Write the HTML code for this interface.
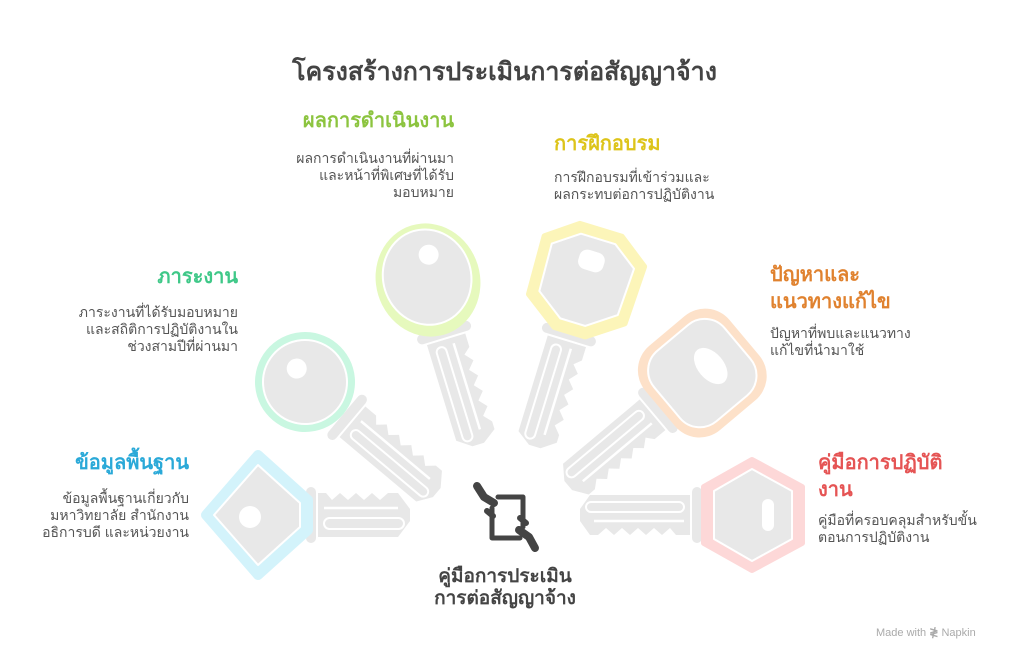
<!DOCTYPE html>
<html><head><meta charset="utf-8"><style>
html,body{margin:0;padding:0;background:#fff;}
body{width:1009px;height:660px;position:relative;overflow:hidden;font-family:"Liberation Sans","Noto Sans CJK SC",sans-serif;}
.t{position:absolute;white-space:nowrap;}
.h{font-weight:bold;font-size:20px;line-height:27px;}
.b{font-size:14px;line-height:17px;color:#555;}
.r{text-align:right;}
</style></head><body>
<svg width="1009" height="660" style="position:absolute;left:0;top:0">
<defs>
<g id="shaft">
  <rect x="48" y="-28" width="10" height="56" rx="5" fill="#e8e8e8"/>
  <path d="M60,-22 L68,-22 L74,-15 L82,-22 L90,-15 L98,-22 L106,-15 L114,-22 L122,-15 L130,-22 L140,-22 L152,-6 L152,6 L140,22 L60,22 Z" fill="#e8e8e8"/>
  <line x1="66" y1="-7" x2="140" y2="-7" stroke="#fff" stroke-width="2.5"/>
  <rect x="66" y="3" width="80" height="11" rx="5.5" fill="none" stroke="#fff" stroke-width="2"/>
</g>
<g id="lshaft">
  <rect x="50" y="-28" width="10" height="56" rx="5" fill="#e8e8e8"/>
  <path d="M62,-20 L76,-20 L82,-13 L90,-20 L98,-13 L106,-20 L114,-13 L122,-20 L130,-13 L138,-20 L146,-13 L154,-20 L162,-20 L172,-6 L172,6 L162,20 L62,20 Z" fill="#e8e8e8"/>
  <line x1="68" y1="-6" x2="158" y2="-6" stroke="#fff" stroke-width="2.5"/>
  <rect x="68" y="3" width="98" height="10" rx="5" fill="none" stroke="#fff" stroke-width="2"/>
</g>
</defs>
<!-- blue key -->
<g transform="translate(258,515)">
  <use href="#shaft"/>
  <path d="M0,-60 L50,-15 L50,15 L0,60 L-52,0 Z" fill="#d3f3fb" stroke="#d3f3fb" stroke-width="10" stroke-linejoin="round"/>
  <path d="M0,-50 L42,-12 L42,12 L0,50 L-44,0 Z" fill="#e8e8e8" stroke="#fff" stroke-width="2" stroke-linejoin="round"/>
  <circle cx="-8" cy="2" r="11" fill="#fff"/>
</g>
<!-- green key -->
<g transform="translate(305,382) rotate(40)">
  <use href="#lshaft"/>
  <circle cx="0" cy="0" r="50" fill="#c9f7e1"/>
  <circle cx="0" cy="0" r="42" fill="#e8e8e8" stroke="#fff" stroke-width="2"/>
  <circle cx="-15" cy="-5" r="10" fill="#fff"/>
</g>
<!-- light green key -->
<g transform="translate(428,280) rotate(73)">
  <use href="#lshaft"/>
  <ellipse cx="0" cy="0" rx="57" ry="52" fill="#e6f9bd"/>
  <ellipse cx="-3" cy="0" rx="48" ry="44" fill="#e8e8e8" stroke="#fff" stroke-width="2"/>
  <circle cx="-24" cy="-8" r="10" fill="#fff"/>
</g>
<!-- yellow key -->
<g transform="translate(585,282) rotate(107)">
  <use href="#lshaft"/>
  <path d="M-54,-22 L-32,-52 L28,-50 L52,-16 L52,16 L28,50 L-32,52 L-54,22 Z" fill="#fcf5b9" stroke="#fcf5b9" stroke-width="6" stroke-linejoin="round"/>
  <path d="M-45,-18 L-27,-43 L22,-41 L42,-13 L42,13 L22,41 L-27,43 L-45,18 Z" fill="#e8e8e8" stroke="#fff" stroke-width="2" stroke-linejoin="round"/>
  <rect x="-32" y="-13" width="20" height="26" rx="8" fill="#fff"/>
</g>
<!-- orange key -->
<g transform="translate(700,375) rotate(140)">
  <use href="#lshaft"/>
  <rect x="-58" y="-55" width="110" height="110" rx="32" fill="#fde1c9"/>
  <rect x="-49" y="-46" width="92" height="92" rx="26" fill="#e8e8e8" stroke="#fff" stroke-width="2"/>
  <ellipse cx="-14" cy="0" rx="13" ry="21" fill="#fff"/>
</g>
<!-- red key -->
<g transform="translate(752,515) rotate(180)">
  <use href="#lshaft"/>
  <path d="M-50,-28 L0,-55 L48,-28 L48,28 L0,55 L-50,28 Z" fill="#fdd8d8" stroke="#fdd8d8" stroke-width="6" stroke-linejoin="round"/>
  <path d="M-40,-24 L0,-46 L38,-24 L38,24 L0,46 L-40,24 Z" fill="#e8e8e8" stroke="#fff" stroke-width="2" stroke-linejoin="round"/>
  <rect x="-22" y="-16" width="12" height="32" rx="6" fill="#fff"/>
</g>
<!-- center icon -->
<g fill="none" stroke="#444" stroke-linejoin="round" stroke-linecap="round">
  <path d="M492,508 L492,538 L520,538" stroke-width="5"/>
  <path d="M498,497 L523,497 L523,527" stroke-width="5"/>
  <path d="M477,486 L484,497 L494,503" stroke-width="8"/>
  <path d="M487,511 L493,516" stroke-width="6"/>
  <path d="M535,548 L529,537 L519,530" stroke-width="8"/>
  <path d="M526,523 L520,518" stroke-width="6"/>
</g>
</svg>

<div class="t" style="left:0;width:1009px;top:52px;text-align:center;font-size:25px;font-weight:bold;color:#444;">โครงสร้างการประเมินการต่อสัญญาจ้าง</div>

<div class="t h r" style="right:555px;top:108px;color:#8cc43f;">ผลการดำเนินงาน</div>
<div class="t b r" style="right:555px;top:150px;">ผลการดำเนินงานที่ผ่านมา<br>และหน้าที่พิเศษที่ได้รับ<br>มอบหมาย</div>

<div class="t h" style="left:554px;top:131px;color:#ddc41a;">การฝึกอบรม</div>
<div class="t b" style="left:554px;top:169px;">การฝึกอบรมที่เข้าร่วมและ<br>ผลกระทบต่อการปฏิบัติงาน</div>

<div class="t h r" style="right:771px;top:264px;color:#3fc888;">ภาระงาน</div>
<div class="t b r" style="right:771px;top:304px;">ภาระงานที่ได้รับมอบหมาย<br>และสถิติการปฏิบัติงานใน<br>ช่วงสามปีที่ผ่านมา</div>

<div class="t h" style="left:770px;top:262px;color:#e0822f;">ปัญหาและ<br>แนวทางแก้ไข</div>
<div class="t b" style="left:770px;top:325px;">ปัญหาที่พบและแนวทาง<br>แก้ไขที่นำมาใช้</div>

<div class="t h r" style="right:820px;top:450px;color:#2aa9d8;">ข้อมูลพื้นฐาน</div>
<div class="t b r" style="right:820px;top:490px;">ข้อมูลพื้นฐานเกี่ยวกับ<br>มหาวิทยาลัย สำนักงาน<br>อธิการบดี และหน่วยงาน</div>

<div class="t h" style="left:818px;top:450px;color:#e55454;">คู่มือการปฏิบัติ<br>งาน</div>
<div class="t b" style="left:818px;top:512px;">คู่มือที่ครอบคลุมสำหรับขั้น<br>ตอนการปฏิบัติงาน</div>

<div class="t" style="left:385px;width:240px;top:566px;text-align:center;font-size:19px;font-weight:bold;line-height:22px;color:#444;">คู่มือการประเมิน<br>การต่อสัญญาจ้าง</div>

<div class="t" style="left:876px;top:626px;font-size:11px;color:#aaa;">Made with <span style="font-weight:bold">≹</span> Napkin</div>
</body></html>
